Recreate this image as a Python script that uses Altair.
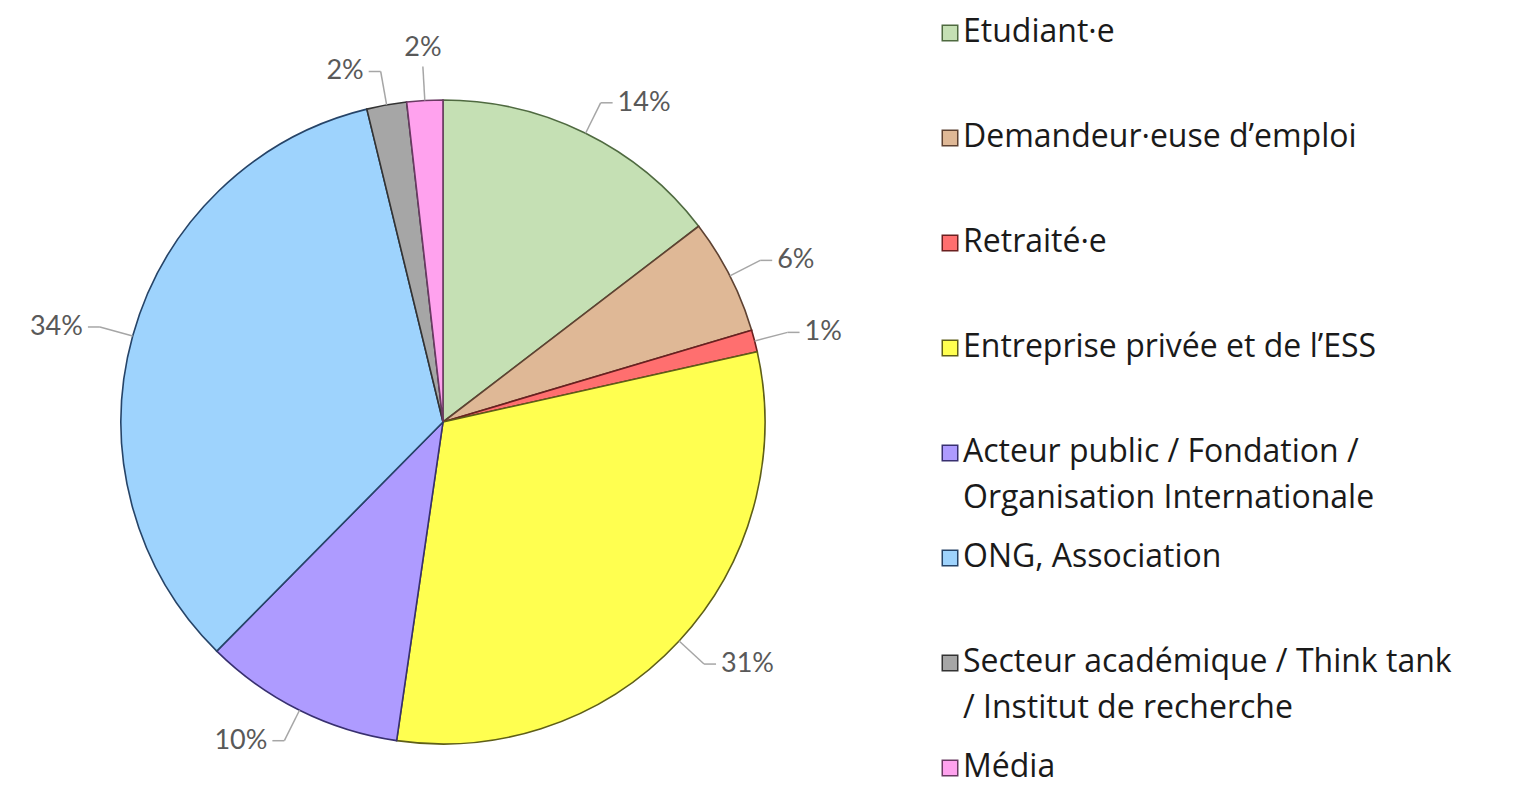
import altair as alt
import pandas as pd

# ---- data ----
categories = [
    "Etudiant·e",
    "Demandeur·euse d’emploi",
    "Retraité·e",
    "Entreprise privée et de l’ESS",
    "Acteur public / Fondation / Organisation Internationale",
    "ONG, Association",
    "Secteur académique / Think tank / Institut de recherche",
    "Média",
]
legend_text = [
    "Etudiant·e",
    "Demandeur·euse d’emploi",
    "Retraité·e",
    "Entreprise privée et de l’ESS",
    "Acteur public / Fondation /\nOrganisation Internationale",
    "ONG, Association",
    "Secteur académique / Think tank\n/ Institut de recherche",
    "Média",
]
shares = [14.6, 5.8, 1.1, 30.8, 10.1, 33.8, 2.0, 1.8]
pct_labels = ["14%", "6%", "1%", "31%", "10%", "34%", "2%", "2%"]

fills = ["#C5E0B4", "#DFB896", "#FF6F6F", "#FFFF50", "#AE9BFF", "#9ED3FD", "#A6A6A6", "#FFA2EE"]
strokes = ["#4F6A40", "#5E4232", "#6A2020", "#5F5F18", "#383070", "#264468", "#333333", "#6A3A63"]

# ---- layout constants ----
R = 322          # pie radius (px)
E = 34           # leader radial extension
STUB = 12        # horizontal stub
GAP = 5          # gap between stub and label
PIE_W, H = 925, 781
LEG_W = 574

df = pd.DataFrame({
    "cat": categories,
    "legend": legend_text,
    "value": shares,
    "pct": pct_labels,
    "order": list(range(len(categories))),
})

fill_scale = alt.Scale(domain=categories, range=fills)
stroke_scale = alt.Scale(domain=categories, range=strokes)
xs = alt.Scale(domain=[-435, PIE_W - 435], nice=False, zero=False)
ys = alt.Scale(domain=[-(H - 414), 414], nice=False, zero=False)

arcs = alt.Chart(df).mark_arc(radius=R, strokeWidth=1.6).encode(
    theta=alt.Theta("value:Q", stack=True),
    order=alt.Order("order:Q"),
    fill=alt.Fill("cat:N", scale=fill_scale, legend=None),
    stroke=alt.Stroke("cat:N", scale=stroke_scale, legend=None),
    x=alt.XDatum(0, type="quantitative", scale=xs, axis=None),
    y=alt.YDatum(0, type="quantitative", scale=ys, axis=None),
)

base = (
    alt.Chart(df)
    .transform_joinaggregate(total="sum(value)")
    .transform_window(cum="sum(value)", sort=[alt.SortField("order")], frame=[None, 0])
    .transform_calculate(mid="2*PI*(datum.cum - datum.value/2)/datum.total")
    .transform_calculate(s="sin(datum.mid)")
    .transform_calculate(c="cos(datum.mid)")
    .transform_calculate(vert="abs(datum.s) < 0.15")
    .transform_calculate(side="datum.s >= 0 ? 1 : -1")
    .transform_calculate(x0=f"{R}*datum.s")
    .transform_calculate(y0=f"{R}*datum.c")
    .transform_calculate(x1=f"{R + E}*datum.s")
    .transform_calculate(y1=f"{R + E}*datum.c")
    .transform_calculate(x2=f"datum.vert ? datum.x1 : datum.x1 + datum.side*{STUB}")
    .transform_calculate(y2="datum.y1")
    .transform_calculate(lx=f"datum.vert ? datum.x2 : datum.x2 + datum.side*{GAP}")
    .transform_calculate(ly=f"datum.vert ? datum.y2 + {GAP} : datum.y2")
)

lead1 = base.mark_rule(color="#A6A6A6", strokeWidth=1.5).encode(
    x=alt.X("x0:Q", scale=xs, axis=None),
    y=alt.Y("y0:Q", scale=ys, axis=None),
    x2="x1:Q",
    y2="y1:Q",
)
lead2 = base.mark_rule(color="#A6A6A6", strokeWidth=1.5).encode(
    x=alt.X("x1:Q", scale=xs, axis=None),
    y=alt.Y("y1:Q", scale=ys, axis=None),
    x2="x2:Q",
    y2="y2:Q",
)

txt_kw = dict(font="Lato", fontSize=27, color="#595959")
lab_r = base.transform_filter("!datum.vert && datum.side > 0").mark_text(
    align="left", baseline="middle", **txt_kw
).encode(x=alt.X("lx:Q", scale=xs, axis=None), y=alt.Y("ly:Q", scale=ys, axis=None), text="pct:N")
lab_l = base.transform_filter("!datum.vert && datum.side < 0").mark_text(
    align="right", baseline="middle", **txt_kw
).encode(x=alt.X("lx:Q", scale=xs, axis=None), y=alt.Y("ly:Q", scale=ys, axis=None), text="pct:N")
lab_v = base.transform_filter("datum.vert").mark_text(
    align="center", baseline="bottom", **txt_kw
).encode(x=alt.X("lx:Q", scale=xs, axis=None), y=alt.Y("ly:Q", scale=ys, axis=None), text="pct:N")

pie = alt.layer(arcs, lead1, lead2, lab_r, lab_l, lab_v).properties(width=PIE_W, height=H)

# ---- custom legend ----
ly_scale = alt.Scale(domain=categories, range=[25, 760], padding=0)
leg_sq = alt.Chart(df).mark_point(shape="square", filled=True, size=240, strokeWidth=1.5, opacity=1).encode(
    x=alt.value(17),
    y=alt.Y("cat:N", sort=categories, scale=ly_scale, axis=None),
    fill=alt.Fill("cat:N", scale=fill_scale, legend=None),
    stroke=alt.Stroke("cat:N", scale=stroke_scale, legend=None),
)
leg_tx = alt.Chart(df).mark_text(
    align="left", baseline="top", dy=-16, fontSize=32, fontWeight=500, lineHeight=46,
    lineBreak="\n", font="Open Sans", color="#1A1A1A",
).encode(
    x=alt.value(30),
    y=alt.Y("cat:N", sort=categories, scale=ly_scale, axis=None),
    text="legend:N",
)
legend = alt.layer(leg_sq, leg_tx).properties(width=LEG_W, height=H)

chart = alt.hconcat(pie, legend, spacing=0, padding=0).configure_view(stroke=None)

chart.save("out.html", embed_options={"renderer": "svg", "actions": False})
